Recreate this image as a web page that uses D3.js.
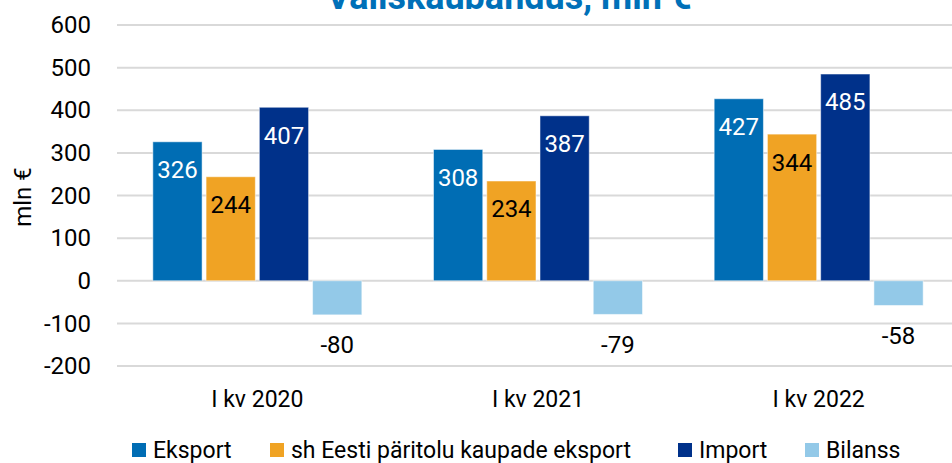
<!DOCTYPE html>
<html>
<head>
<meta charset="utf-8">
<script src="https://cdn.jsdelivr.net/npm/d3@7"></script>
<style>
  body { margin: 0; background: #fff; }
  svg { display: block; font-family: Roboto, "Noto Sans", sans-serif; }
</style>
</head>
<body>
<div class="trade_plot"></div>
<script>
const categories = ['I kv 2020', 'I kv 2021', 'I kv 2022'];
const seriesNames = ['Eksport', 'sh Eesti päritolu kaupade eksport', 'Import', 'Bilanss'];
const eksport = [326, 308, 427];
const eestiEksport = [244, 234, 344];
const importValues = [407, 387, 485];
const bilanss = [-80, -79, -58];
const yTicks = [-200, -100, 0, 100, 200, 300, 400, 500, 600];

const colors = ['#006db4', '#f0a324', '#00318a', '#93c9e8'];
const labelColors = ['#fff', '#000', '#fff', '#000'];
const seriesValues = [eksport, eestiEksport, importValues, bilanss];

const width = 952, height = 463;
const margin = {top: 25, right: -7, bottom: 97, left: 117};
const innerW = width - margin.left - margin.right,
      innerH = height - margin.top - margin.bottom;

const svg = d3.select('.trade_plot')
              .append('svg')
              .attr('width', width)
              .attr('height', height);

// title is partly cut off at the top in the source picture
svg.append('text')
   .attr('x', 509)
   .attr('y', 9)
   .attr('text-anchor', 'middle')
   .attr('font-size', 36)
   .attr('font-weight', 'bold')
   .attr('fill', '#0070b8')
   .text('Väliskaubandus, mln €');

const g = svg.append('g')
             .attr('transform', `translate(${margin.left},${margin.top})`);

const xScale = d3.scaleBand()
                 .domain(categories)
                 .range([0, innerW]);

const xInner = d3.scaleBand()
                 .domain(d3.range(seriesNames.length))
                 .range([xScale.bandwidth() / 2 - 104.5, xScale.bandwidth() / 2 + 104.5])
                 .paddingInner(0.075);

const yScale = d3.scaleLinear()
                 .domain([-200, 600])
                 .range([innerH, 0]);

// grid
g.append('g')
 .selectAll('line')
 .data(yTicks)
 .join('line')
 .attr('x1', 0)
 .attr('x2', innerW)
 .attr('y1', d => yScale(d))
 .attr('y2', d => yScale(d))
 .attr('stroke', '#d9d9d9')
 .attr('stroke-width', 2);

const yAxis = d3.axisLeft(yScale)
                .tickValues(yTicks)
                .tickFormat(d => String(d))
                .tickSize(0)
                .tickPadding(26);
g.append('g')
 .attr('class', 'axis y-axis')
 .call(yAxis)
 .call(a => a.select('.domain').remove())
 .selectAll('text')
 .attr('font-size', 24)
 .attr('font-family', 'Roboto')
 .attr('fill', '#000');

const xAxis = d3.axisBottom(xScale).tickSize(0).tickPadding(0);
g.append('g')
 .attr('class', 'axis x-axis')
 .attr('transform', `translate(0, ${innerH})`)
 .call(xAxis)
 .call(a => a.select('.domain').remove())
 .selectAll('text')
 .attr('y', 33)
 .attr('dy', '0.35em')
 .attr('font-size', 23)
 .attr('font-family', 'Roboto')
 .attr('fill', '#000');

const rows = [];
categories.forEach((c, i) => {
  seriesValues.forEach((vals, s) => rows.push({cat: c, s: s, v: vals[i]}));
});

const groups = g.append('g');
groups.selectAll('rect')
      .data(rows)
      .join('rect')
      .attr('x', d => xScale(d.cat) + xInner(d.s))
      .attr('width', xInner.bandwidth())
      .attr('y', d => yScale(Math.max(0, d.v)))
      .attr('height', d => Math.abs(yScale(d.v) - yScale(0)))
      .attr('fill', d => colors[d.s])
      .attr('stroke', 'rgba(255,255,255,0.5)')
      .attr('stroke-width', 1);

groups.selectAll('text')
      .data(rows)
      .join('text')
      .attr('x', d => xScale(d.cat) + xInner(d.s) + xInner.bandwidth() / 2)
      .attr('y', d => yScale(d.v) + (d.v >= 0 ? 28 : 30))
      .attr('dy', '0.35em')
      .attr('text-anchor', 'middle')
      .attr('font-size', 24)
      .attr('fill', d => labelColors[d.s])
      .text(d => d.v);

// y label
svg.append('text')
   .attr('transform', 'translate(31, 197) rotate(-90)')
   .attr('text-anchor', 'middle')
   .attr('font-size', 24)
   .text('mln €');

// legend
const legendX = [132, 270, 678, 805];
const legend = svg.append('g')
                  .selectAll('g')
                  .data(seriesNames)
                  .join('g')
                  .attr('transform', (d, i) => `translate(${legendX[i]}, 443)`);
legend.append('rect')
      .attr('width', 14)
      .attr('height', 14)
      .attr('fill', (d, i) => colors[i]);
legend.append('text')
      .attr('x', 21)
      .attr('y', 6.5)
      .attr('dy', '0.35em')
      .attr('font-size', 23)
      .text(d => d);
</script>
</body>
</html>
